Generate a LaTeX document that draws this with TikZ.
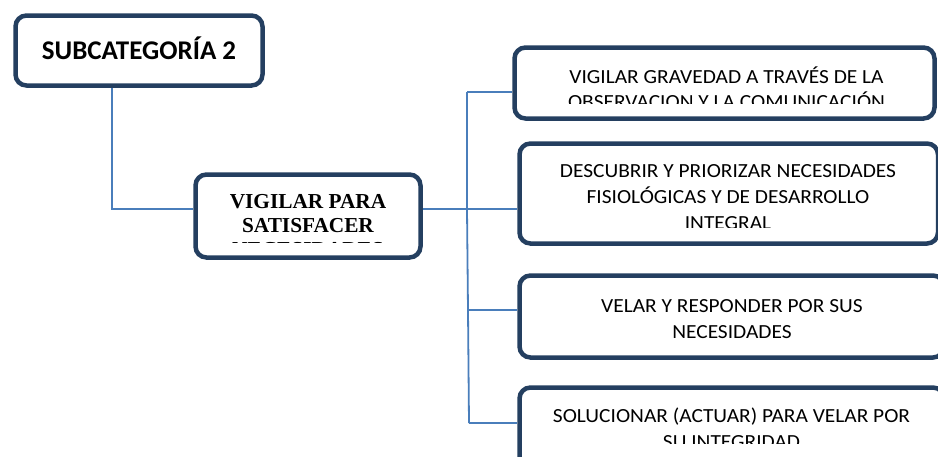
\documentclass[tikz,border=0pt]{standalone}
\usepackage{fontspec}
\setmainfont{Carlito}
\newfontfamily\itemfont{Carlito}[FakeStretch=1.07]
\newfontfamily\timesfont{Liberation Serif}
\definecolor{boxline}{HTML}{243F60}
\definecolor{linkline}{HTML}{4A7EBB}
\tikzset{
  panel/.style={draw=boxline, line width=4.5pt, rounded corners=11pt, fill=white, inner sep=0pt},
  link/.style={draw=linkline, line width=1.8pt},
  itemtext/.style={font=\itemfont\fontsize{20}{25}\selectfont, anchor=base, inner sep=0pt},
  titletext/.style={font=\fontsize{27}{30}\selectfont\bfseries, anchor=base, inner sep=0pt},
  themetext/.style={font=\timesfont\fontsize{21.3}{24}\selectfont\bfseries, anchor=base, inner sep=0pt},
}
\begin{document}
\begin{tikzpicture}[x=1pt, y=-1pt]
\useasboundingbox (0,0) rectangle (938,456);

% boxes
\node[panel, minimum width=247pt, minimum height=70pt] (sub) at (139,50.5) {};
\node[panel, minimum width=225pt, minimum height=83pt] (vig) at (308,216) {};
\node[panel, minimum width=420pt, minimum height=71pt] (r1) at (724.5,83) {};
\node[panel, minimum width=418.5pt, minimum height=100pt] (r2) at (728.75,193.5) {};
\node[panel, minimum width=424.5pt, minimum height=82pt] (r3) at (731.75,316.5) {};
\node[panel, minimum width=424.5pt, minimum height=84.5pt] (r4) at (731.75,429.75) {};

% texts
\node[titletext] (tsub) at (139,59.3) {SUBCATEGORÍA 2};

\begin{scope}
  \clip (198,177) rectangle (418,242.8);
  \node[themetext] (tv1) at (308,208) {VIGILAR PARA};
  \node[themetext] (tv2) at (308,232) {SATISFACER};
  \node[themetext] (tv3) at (308,256) {NECESIDADES};
\end{scope}

\begin{scope}
  \clip (517,50) rectangle (932,103.5);
  \node[itemtext] (ta1) at (726.5,83) {VIGILAR GRAVEDAD A TRAVÉS DE LA};
  \node[itemtext] (ta2) at (726.5,108.5) {OBSERVACION Y LA COMUNICACIÓN};
\end{scope}

\begin{scope}
  \clip (522,146) rectangle (935,227.5);
  \node[itemtext] (tb1) at (728,177) {DESCUBRIR Y PRIORIZAR NECESIDADES};
  \node[itemtext] (tb2) at (728,203) {FISIOLÓGICAS Y DE DESARROLLO};
  \node[itemtext] (tb3) at (728,229) {INTEGRAL};
\end{scope}

\node[itemtext] (tc1) at (732,312) {VELAR Y RESPONDER POR SUS};
\node[itemtext] (tc2) at (732,338) {NECESIDADES};

\begin{scope}
  \clip (522,390) rectangle (940,443.5);
  \node[itemtext] (td1) at (731.5,422) {SOLUCIONAR (ACTUAR) PARA VELAR POR};
  \node[itemtext] (td2) at (731.5,448) {SU INTEGRIDAD};
\end{scope}

% connectors
\coordinate (j0) at (112,209);
\draw[link] (sub.south -| j0) -- (j0) -- (j0 -| vig.west);

\coordinate (t1) at (467,92);
\coordinate (t2) at (467,209);
\coordinate (t3) at (468,310);
\coordinate (t4) at (469,423);
\draw[link] (t2 -| vig.east) -- (t2);
\draw[link] (t1) -- (t2) -- (t3) -- (t4);
\draw[link] (t1) -- (t1 -| r1.west);
\draw[link] (t2) -- (t2 -| r2.west);
\draw[link] (t3) -- (t3 -| r3.west);
\draw[link] (t4) -- (t4 -| r4.west);
\end{tikzpicture}
\end{document}
